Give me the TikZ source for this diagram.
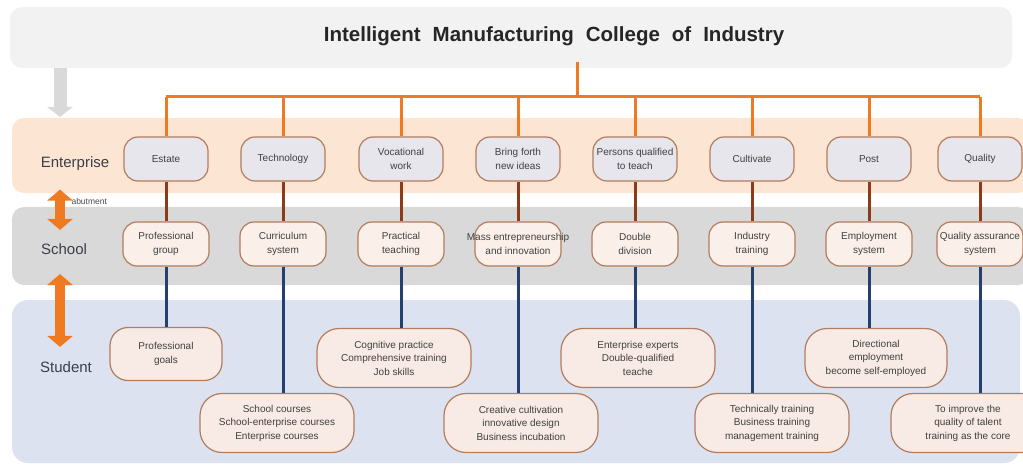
\documentclass[tikz,border=0pt]{standalone}
\usepackage{fontspec}
\setmainfont{Liberation Sans}
\usetikzlibrary{arrows.meta}
\definecolor{titlefill}{HTML}{F2F2F2}
\definecolor{entband}{HTML}{FDE5D4}
\definecolor{schband}{HTML}{D9D9D9}
\definecolor{stuband}{HTML}{DDE2F1}
\definecolor{entfill}{HTML}{E6E6EC}
\definecolor{schfill}{HTML}{FBEFE9}
\definecolor{stufill}{HTML}{F8EAE4}
\definecolor{boxedge}{HTML}{B37C5E}
\definecolor{orangeline}{HTML}{F07A22}
\definecolor{brownline}{HTML}{8B3A1A}
\definecolor{navyline}{HTML}{24406E}
\definecolor{labeltext}{HTML}{3A3F4A}
\begin{document}
\begin{tikzpicture}[x=1pt,y=-1pt,
  box/.style={draw=boxedge,line width=1.2pt,align=center,text=black!75,
    font=\fontsize{10}{13.5}\selectfont,inner xsep=1pt},
  entbox/.style={box,fill=entfill,rounded corners=14pt,minimum width=84pt,minimum height=44pt},
  schbox/.style={box,fill=schfill,rounded corners=14pt,minimum width=86pt,minimum height=44pt},
  stubox/.style={box,fill=stufill,rounded corners=22pt,minimum width=154pt,minimum height=59pt},
  bandlabel/.style={text=labeltext,font=\fontsize{15}{18}\selectfont},
  dblarrow/.style={orangeline,line width=10pt,
    {Triangle[width=25pt,length=11pt]}-{Triangle[width=25pt,length=11pt]}},
  treeline/.style={orangeline,line width=3pt},
  upline/.style={brownline,line width=3pt},
  lowline/.style={navyline,line width=3pt}]
 \useasboundingbox (0,0) rectangle (1023,465);
 % bands
 \fill[titlefill,rounded corners=12pt] (10,7) rectangle (1012,68);
 \fill[entband,rounded corners=12pt] (12,118) rectangle (1030,193);
 \fill[schband,rounded corners=12pt] (12,207) rectangle (1030,285);
 \fill[stuband,rounded corners=16pt] (12,300) rectangle (1020,463);
 % title and row labels
 \node[font=\bfseries\fontsize{20.5}{24}\selectfont,text=black!85] (title) at (554,36) {\spaceskip=12pt\relax Intelligent Manufacturing College of Industry};
 \node[bandlabel] (entlabel) at (75,164) {Enterprise};
 \node[bandlabel] (schlabel) at (64,249) {School};
 \node[bandlabel] (stulabel) at (66,367) {Student};
 \node[font=\fontsize{8.5}{9}\selectfont,text=black!70,anchor=west] (abut) at (68,201) {abutment};
 \coordinate (gtop) at (60,68);
 \coordinate (gbot) at (60,117);
 \draw[black!15,line width=13pt,-{Triangle[width=25pt,length=10pt]}] (gtop) -- (gbot);
 \draw[dblarrow,shorten <=15pt,shorten >=10pt] (entlabel.south -| 60,0) -- (schlabel.north -| 60,0);
 \draw[dblarrow,shorten <=16pt,shorten >=11pt] (schlabel.south -| 60,0) -- (stulabel.north -| 60,0);
 % enterprise row
 \node[entbox] (e1) at (166,159) {Estate};
 \node[entbox] (e2) at (283,159) {Technology};
 \node[entbox] (e3) at (401,159) {Vocational\\work};
 \node[entbox] (e4) at (518,159) {Bring forth\\new ideas};
 \node[entbox] (e5) at (635,159) {Persons qualified\\to teach};
 \node[entbox] (e6) at (752,159) {Cultivate};
 \node[entbox] (e7) at (869,159) {Post};
 \node[entbox] (e8) at (980,159) {Quality};
 % school row
 \node[schbox] (s1) at (166,244) {Professional\\group};
 \node[schbox] (s2) at (283,244) {Curriculum\\system};
 \node[schbox] (s3) at (401,244) {Practical\\teaching};
 \node[schbox,inner xsep=-13pt] (s4) at (518,244) {Mass entrepreneurship\\and innovation};
 \node[schbox] (s5) at (635,244) {Double\\division};
 \node[schbox] (s6) at (752,244) {Industry\\training};
 \node[schbox] (s7) at (869,244) {Employment\\system};
 \node[schbox,inner xsep=-1pt] (s8) at (980,244) {Quality assurance\\system};
 % student row
 \node[stubox,minimum width=112pt,minimum height=53pt,rounded corners=18pt] (t1) at (166,354) {Professional\\goals};
 \node[stubox] (t2) at (277,423) {School courses\\School-enterprise courses\\Enterprise courses};
 \node[stubox] (t3) at (394,358) {Cognitive practice\\Comprehensive training\\Job skills};
 \node[stubox] (t4) at (521,423) {Creative cultivation\\innovative design\\Business incubation};
 \node[stubox] (t5) at (638,358) {Enterprise experts\\Double-qualified\\teache};
 \node[stubox] (t6) at (772,423) {Technically training\\Business training\\management training};
 \node[stubox,minimum width=142pt] (t7) at (876,358) {Directional\\employment\\become self-employed};
 \node[stubox] (t8) at (968,423) {To improve the\\quality of talent\\training as the core};
 % orange tree from the title
 \coordinate (root) at (577,97);
 \draw[treeline] (577,62) -- (root);
 \draw[treeline] (e1.north |- root) -- (e8.north |- root);
 \foreach \i in {1,...,8}
  \draw[treeline] (e\i.north |- root) -- (e\i.north);
 % enterprise to school
 \foreach \i in {1,...,8}
  \draw[upline] (e\i.south) -- (s\i.north);
 % school to student
 \foreach \i in {1,...,8}
  \draw[lowline] (s\i.south) -- (s\i.south |- t\i.north);
\end{tikzpicture}
\end{document}
